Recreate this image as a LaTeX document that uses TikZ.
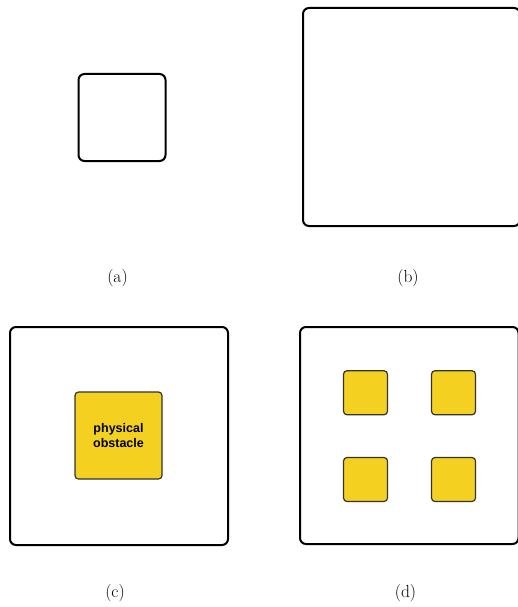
\documentclass[tikz,border=0pt]{standalone}
\usepackage{fontspec}
\newfontfamily\labelsans{Liberation Sans}
\definecolor{obsyellow}{HTML}{F4D021}
\definecolor{obsedge}{HTML}{333333}
\begin{document}
\begin{tikzpicture}[x=1pt,y=-1pt,
  room/.style={draw=black,line width=2pt,rounded corners=6pt,inner sep=0pt,outer sep=0pt},
  obstacle/.style={draw=obsedge,fill=obsyellow,line width=1.2pt,rounded corners=3.5pt,inner sep=0pt,outer sep=0pt},
  caption/.style={font=\fontsize{17.5}{20}\selectfont,inner sep=0pt}]
\useasboundingbox (0,0) rectangle (518,607);
% (a)
\node[room,minimum width=87pt,minimum height=87pt] (ra) at (122,117.5) {};
\node[caption] (la) at (117.5,278) {(a)};
% (b)
\node[room,minimum width=217pt,minimum height=218pt] (rb) at (411.5,117) {};
\node[caption] (lb) at (408,278) {(b)};
% (c)
\node[room,minimum width=218pt,minimum height=218pt] (rc) at (119,436) {};
\node[obstacle,minimum width=87pt,minimum height=87pt,align=center,
  font=\labelsans\bfseries\fontsize{12.5}{15}\selectfont] (oc) at (118.5,435.5) {physical\\obstacle};
\node[caption] (lc) at (115,593.5) {(c)};
% (d)
\node[room,minimum width=218.5pt,minimum height=217pt] (rd) at (409.25,435.5) {};
\node[obstacle,minimum width=44pt,minimum height=44pt] (o1) at (365.5,392.75) {};
\node[obstacle,minimum width=44pt,minimum height=44pt] (o2) at (453.5,392.75) {};
\node[obstacle,minimum width=44pt,minimum height=44pt] (o3) at (365.5,479.5) {};
\node[obstacle,minimum width=44pt,minimum height=44pt] (o4) at (453.5,479.5) {};
\node[caption] (ld) at (405.5,593.5) {(d)};
\end{tikzpicture}
\end{document}
